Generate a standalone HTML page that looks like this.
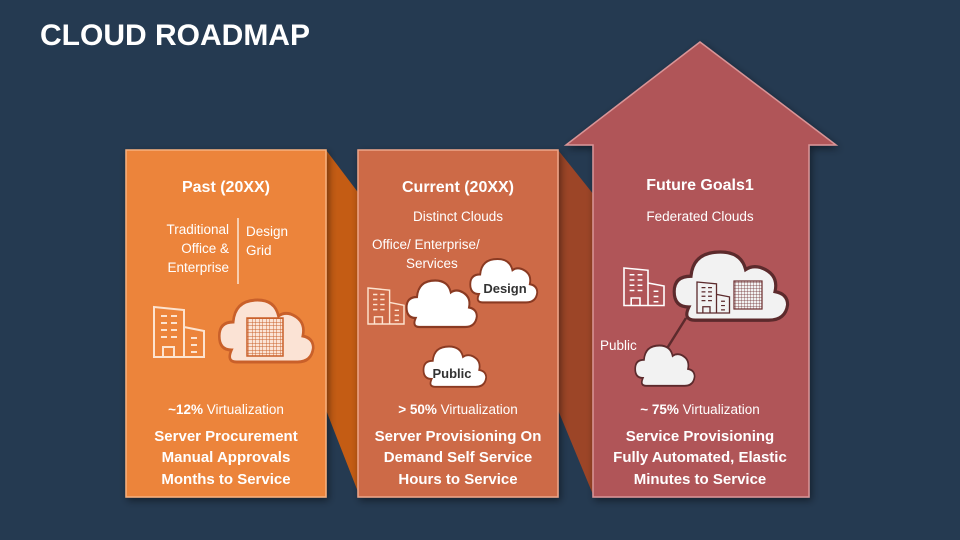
<!DOCTYPE html>
<html><head><meta charset="utf-8"><style>
body{margin:0;width:960px;height:540px;overflow:hidden;background:#253a51;font-family:"Liberation Sans",sans-serif}
svg{display:block}
svg text{font-family:"Liberation Sans",sans-serif;fill:#fff}
</style></head><body>
<svg width="960" height="540" viewBox="0 0 960 540">
<defs>
<filter id="sh" x="-20%" y="-20%" width="140%" height="140%"><feDropShadow dx="2" dy="3" stdDeviation="4" flood-color="#000" flood-opacity="0.45"/></filter>
<pattern id="grid" width="3.5" height="3.5" patternUnits="userSpaceOnUse"><path d="M0 0H3.5M0 0V3.5" stroke="#c9602a" stroke-width="0.9" fill="none"/></pattern>
<pattern id="grid2" width="3" height="3" patternUnits="userSpaceOnUse"><path d="M0 0H3M0 0V3" stroke="#6a2a2c" stroke-width="0.7" fill="none"/></pattern>
<g id="bld">
<path d="M0 0 L30 3 V50 H0Z M30 20 L50 24 V50 H30" fill="none" stroke-width="2"/>
<path d="M7 9h6M17 9h6M7 16h6M17 16h6M7 23h6M17 23h6M7 30h6M17 30h6M37 31h6M37 38h6M37 45h6" stroke-width="2"/>
<path d="M9 50V40h11v10" fill="none" stroke-width="2"/>
</g>
<path id="cl" d="M-42 20 Q-56 20 -56 6 Q-56 -8 -40 -8 Q-38 -30 -12 -30 Q8 -30 12 -14 Q18 -18 26 -16 Q44 -10 40 6 Q52 8 52 18 Q50 32 34 32 H-36 Q-48 32 -42 20Z"/>
</defs>
<text x="40" y="45" font-size="30" font-weight="bold">CLOUD ROADMAP</text>

<polygon points="326,150 360,195 360,497 326,410" fill="#c45c14"/>
<polygon points="558,150 594,195 594,497 558,410" fill="#9c4527"/>

<rect x="126" y="150" width="200" height="347" fill="#ec843a" stroke="#f7b07e" stroke-width="1.5" filter="url(#sh)"/>
<rect x="358" y="150" width="200" height="347" fill="#cd6b46" stroke="#eda68a" stroke-width="1.5" filter="url(#sh)"/>
<polygon points="700,42 836,145 809,145 809,497 593,497 593,145 566,145" fill="#b05558" stroke="#d99597" stroke-width="1.5" filter="url(#sh)"/>

<g text-anchor="middle">
<text x="226" y="192" font-size="16" font-weight="bold">Past (20XX)</text>
<text x="226" y="414" font-size="13.5"><tspan font-weight="bold">~12%</tspan> Virtualization</text>
<text x="226" y="441" font-size="15" font-weight="bold">Server Procurement</text>
<text x="226" y="462" font-size="15" font-weight="bold">Manual Approvals</text>
<text x="226" y="484" font-size="15" font-weight="bold">Months to Service</text>
<text x="458" y="192" font-size="16" font-weight="bold">Current (20XX)</text>
<text x="458" y="221" font-size="13.5">Distinct Clouds</text>
<text x="458" y="414" font-size="13.5"><tspan font-weight="bold">&gt; 50%</tspan> Virtualization</text>
<text x="458" y="441" font-size="15" font-weight="bold">Server Provisioning On</text>
<text x="458" y="462" font-size="15" font-weight="bold">Demand Self Service</text>
<text x="458" y="484" font-size="15" font-weight="bold">Hours to Service</text>
<text x="700" y="190" font-size="16" font-weight="bold">Future Goals1</text>
<text x="700" y="221" font-size="13.5">Federated Clouds</text>
<text x="700" y="414" font-size="13.5"><tspan font-weight="bold">~ 75%</tspan> Virtualization</text>
<text x="700" y="441" font-size="15" font-weight="bold">Service Provisioning</text>
<text x="700" y="462" font-size="15" font-weight="bold">Fully Automated, Elastic</text>
<text x="700" y="484" font-size="15" font-weight="bold">Minutes to Service</text>
</g>
<g text-anchor="end" font-size="13.5">
<text x="229" y="234">Traditional</text>
<text x="229" y="253">Office &amp;</text>
<text x="229" y="272">Enterprise</text>
</g>
<line x1="238" y1="218" x2="238" y2="284" stroke="#fff" stroke-width="1.2"/>
<text x="246" y="236" font-size="13.5">Design</text>
<text x="246" y="255" font-size="13.5">Grid</text>
<use href="#bld" x="154" y="307" stroke="#fde3cf" fill="#fde3cf"/>
<use href="#cl" transform="translate(268,330) scale(0.87,1)" fill="#fbe3d5" stroke="#c9602a" stroke-width="3"/>
<rect x="247" y="318" width="36" height="38" fill="url(#grid)" stroke="#c9602a" stroke-width="1.5"/>

<text x="372" y="249" font-size="13.5">Office/ Enterprise/</text>
<text x="406" y="268" font-size="13.5">Services</text>
<use href="#bld" x="368" y="288" stroke="#fde3cf" fill="#fde3cf" transform="translate(368,288) scale(0.72,0.72) translate(-368,-288)"/>
<use href="#cl" transform="translate(443,303) scale(0.65,0.75)" fill="#fff" stroke="#8a3a22" stroke-width="3"/>
<use href="#cl" transform="translate(505,280) scale(0.62,0.7)" fill="#fff" stroke="#8a3a22" stroke-width="3"/>
<text x="505" y="293" font-size="13" font-weight="bold" text-anchor="middle" style="fill:#333">Design</text>
<use href="#cl" transform="translate(456,366) scale(0.58,0.65)" fill="#fff" stroke="#8a3a22" stroke-width="3"/>
<text x="452" y="378" font-size="13" font-weight="bold" text-anchor="middle" style="fill:#333">Public</text>

<line x1="686" y1="318" x2="666" y2="350" stroke="#5c2a2c" stroke-width="2.5"/>
<use href="#bld" stroke="#fff" fill="#fff" transform="translate(624,268) scale(0.8,0.75)"/>
<use href="#cl" transform="translate(733,285) scale(1.05,1.1)" fill="#f2f2f2" stroke="#5c2a2c" stroke-width="3"/>
<g transform="translate(697,282) scale(0.65,0.62)"><use href="#bld" stroke="#5c2a2c" fill="#5c2a2c"/></g>
<rect x="734" y="281" width="28" height="28" fill="url(#grid2)" stroke="#6a2a2c" stroke-width="1.2"/>
<use href="#cl" transform="translate(666,365) scale(0.55,0.65)" fill="#f2f2f2" stroke="#5c2a2c" stroke-width="3"/>
<text x="600" y="350" font-size="13.5">Public</text>
</svg>
</body></html>
